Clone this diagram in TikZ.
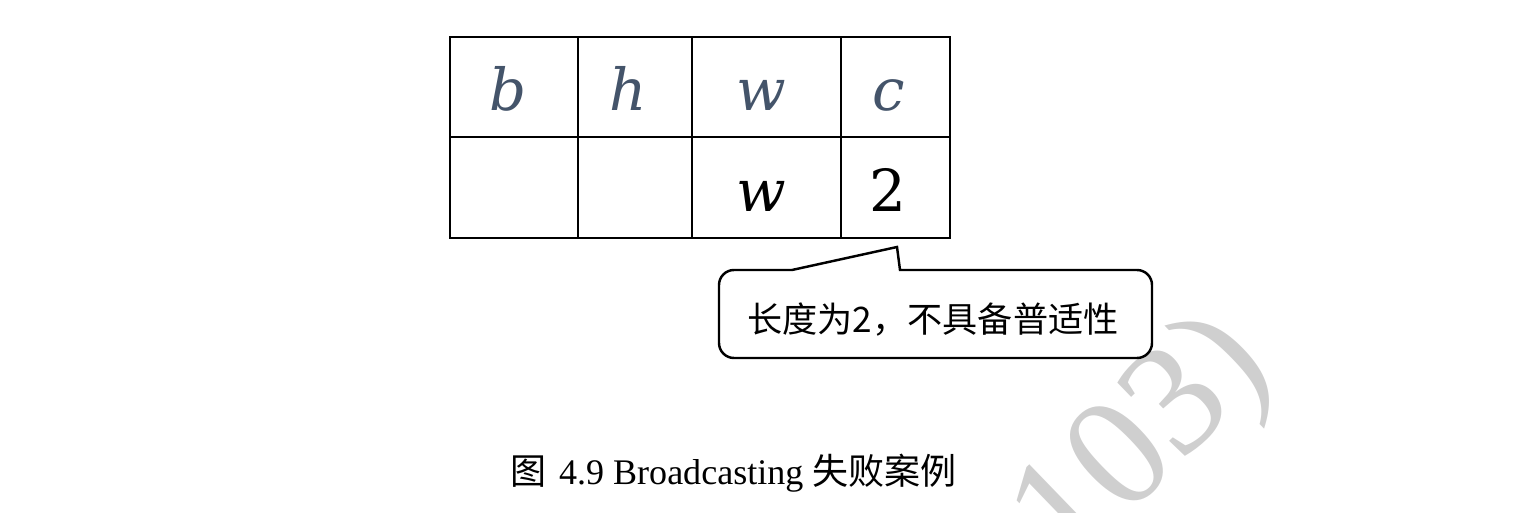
\documentclass[tikz,border=0pt]{standalone}
\usepackage{fontspec}
\setmainfont{Liberation Serif}
\newfontfamily\cjk{Noto Sans CJK SC}
\newfontfamily\cellfont{DejaVu Serif}
\usepackage{tikz}

\definecolor{headblue}{HTML}{44546A}
\definecolor{markgray}{HTML}{CFCFCF}

\begin{document}
\begin{tikzpicture}[
    entry/.style={
        anchor=base,
        font=\cellfont\fontsize{33}{36}\selectfont
    },
    header/.style={
        entry,
        text=headblue
    },
    tableline/.style={
        line width=1.4pt
    },
    bubble/.style={
        line width=1.4pt,
        fill=white
    },
    notetext/.style={
        font=\cjk\fontsize{20}{24}\selectfont
    },
    figcaption/.style={
        font=\fontsize{20.5}{24}\selectfont
    },
    watermark/.style={
        text=markgray,
        font=\fontsize{90}{96}\selectfont,
        rotate=44
    }
]
\useasboundingbox (0, 0) rectangle (30.72, -10.26);

% Watermark in the background
\begin{scope}
\clip (0, 0) rectangle (30.72, -10.26);
\node[watermark] (mark) at (22.90, -8.90) {103)};
\end{scope}

% Shape names (top row)
\node[header] (hb) at (10.16, -2.22) {\itshape b};
\node[header] (hh) at (12.56, -2.22) {\itshape h};
\node[header] (hw) at (15.22, -2.22) {\itshape w};
\node[header] (hc) at (17.78, -2.22) {\itshape c};

% Second shape (bottom row)
\node[entry] (bw) at (15.22, -4.24) {\itshape w};
\node[entry] (bc) at (17.76, -4.24) {2};

% Outer border
\draw[tableline] (9.00, -0.74) rectangle (19.00, -4.76);
% Inner dividers
\draw[tableline] (11.56, -0.74) -- (11.56, -4.76);
\draw[tableline] (13.84, -0.74) -- (13.84, -4.76);
\draw[tableline] (16.82, -0.74) -- (16.82, -4.76);
\draw[tableline] (9.00, -2.74) -- (19.00, -2.74);

% Callout pointing at the 2
\coordinate (tip) at (17.94, -4.94);
\draw[bubble] (15.84, -5.40) -- (tip) -- (18.00, -5.40)
    -- (22.74, -5.40) arc[start angle=90, end angle=0, radius=0.3]
    -- (23.04, -6.86) arc[start angle=0, end angle=-90, radius=0.3]
    -- (14.68, -7.16) arc[start angle=270, end angle=180, radius=0.3]
    -- (14.38, -5.70) arc[start angle=180, end angle=90, radius=0.3]
    -- cycle;
\node[notetext] (note) at (18.66, -6.40) {长度为2，不具备普适性};

% Caption
\node[figcaption] (cap) at (14.67, -9.46)
    {{\cjk 图}\hspace{0.35em}4.9 Broadcasting {\cjk 失败案例}};

\end{tikzpicture}
\end{document}
